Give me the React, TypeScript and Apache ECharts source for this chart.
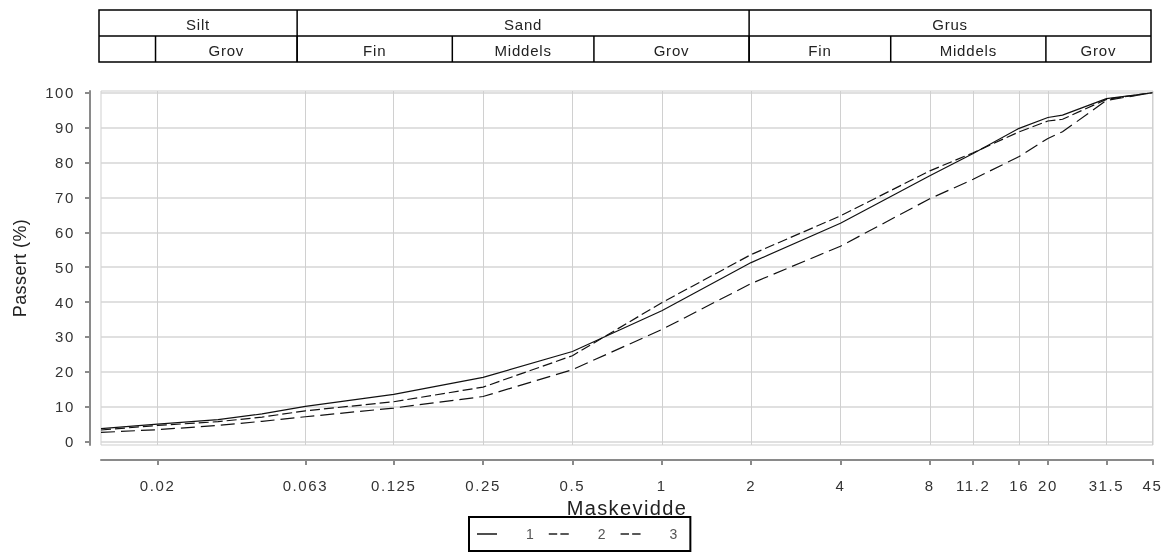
import React, { useEffect, useRef } from "react";
import * as echarts from "echarts";

// ---- data ----
const sieveSizes = [0.0129, 0.02, 0.032, 0.045, 0.063, 0.125, 0.25, 0.5, 1, 2, 4, 8, 11.2, 16, 20, 22.4, 31.5, 45];
const series1 = [3.7, 5.0, 6.3, 7.9, 10.1, 13.5, 18.4, 25.8, 37.5, 51.3, 62.6, 76.2, 82.6, 89.8, 92.9, 93.6, 98.3, 100];
const series2 = [3.3, 4.6, 5.7, 7.0, 8.8, 11.4, 15.6, 24.6, 39.8, 53.6, 64.7, 77.6, 82.8, 88.8, 91.9, 92.4, 98.1, 100];
const series3 = [2.6, 3.4, 4.6, 5.8, 7.1, 9.6, 12.9, 20.6, 32.1, 45.3, 56.0, 69.6, 75.2, 81.7, 86.9, 88.8, 97.8, 100];
const seriesNames = ["1", "2", "3"];
const xTickLabels = ["0.02", "0.063", "0.125", "0.25", "0.5", "1", "2", "4", "8", "11.2", "16", "20", "31.5", "45"];
const yTickValues = [0, 10, 20, 30, 40, 50, 60, 70, 80, 90, 100];
const xMin = 0.0129;
const xMax = 45.2;

// header table (fraction classes)
const topClasses = ["Silt", "Sand", "Grus"];
const topBounds = [xMin, 0.06, 2, xMax];
const subClasses = ["", "Grov", "Fin", "Middels", "Grov", "Fin", "Middels", "Grov"];
const subBounds = [xMin, 0.02, 0.06, 0.2, 0.6, 2, 6, 20, xMax];

export default function App() {
  const ref = useRef<HTMLDivElement>(null);

  useEffect(() => {
    const el = ref.current;
    if (!el) return;
    const chart = echarts.init(el, null, { renderer: "svg" });
    const lg = (v: number) => Math.log10(v);
    const toData = (vals: number[]) => sieveSizes.map((d, i) => [lg(d), vals[i]]);
    const xTickValues = xTickLabels.map((s) => lg(parseFloat(s)));
    const labelFor = (v: number) => {
      let best = 0;
      let bd = Infinity;
      xTickValues.forEach((t, i) => {
        const d = Math.abs(t - v);
        if (d < bd) {
          bd = d;
          best = i;
        }
      });
      return xTickLabels[best];
    };
    const font = "Liberation Sans";
    const lineColor = "#111";
    const dashes: (string | number[])[] = ["solid", [10, 4], [14, 6]];
    const vals = [series1, series2, series3];
    const solidIcon = "path://M0,0H20V1.6H0Z";
    const dashIcon = "path://M0,0H8V1.6H0ZM11,0H19V1.6H11Z";
    const icons = [solidIcon, dashIcon, dashIcon];

    chart.setOption({
      animation: false,
      textStyle: { fontFamily: font },
      grid: {
        left: 101,
        right: 19,
        top: 91,
        bottom: 114,
        show: true,
        borderColor: "#cfcfcf",
        borderWidth: 1,
        containLabel: false,
        outerBoundsMode: "none",
      },
      legend: {
        left: 469,
        top: 517,
        itemWidth: 20,
        itemHeight: 12,
        itemGap: 15,
        padding: [10, 13, 10, 8],
        borderColor: "#000",
        borderWidth: 2,
        borderRadius: 0,
        textStyle: { fontSize: 14, color: "#555", padding: [0, 0, 0, 24], fontFamily: font },
        data: seriesNames.map((n, i) => ({ name: n, icon: icons[i], itemStyle: { color: "#222" } })),
      },
      xAxis: {
        type: "value",
        min: lg(xMin),
        max: lg(xMax),
        offset: 15,
        name: "Maskevidde",
        nameLocation: "middle",
        nameGap: 37,
        nameTextStyle: { fontSize: 20, color: "#222", fontFamily: font },
        axisLine: { show: true, onZero: false, lineStyle: { color: "#8a8a8a", width: 2 } },
        axisTick: { show: true, length: 5, lineStyle: { color: "#8a8a8a", width: 2 }, customValues: xTickValues },
        axisLabel: {
          customValues: xTickValues,
          formatter: (v: number) => labelFor(v),
          fontSize: 15,
          color: "#333",
          margin: 18,
          fontFamily: font,
        },
        splitLine: { show: true, lineStyle: { color: "#d0d0d0", width: 1 }, customValues: xTickValues },
      },
      yAxis: {
        type: "value",
        min: -1,
        max: 100.5,
        offset: 11,
        name: "Passert (%)",
        nameLocation: "middle",
        nameGap: 61,
        nameTextStyle: { fontSize: 18, color: "#222", fontFamily: font },
        axisLine: { show: true, onZero: false, lineStyle: { color: "#8a8a8a", width: 2 } },
        axisTick: { show: true, length: 5, lineStyle: { color: "#8a8a8a", width: 2 }, customValues: yTickValues },
        axisLabel: {
          customValues: yTickValues,
          formatter: (v: number) => String(Math.round(v)),
          fontSize: 15,
          color: "#333",
          margin: 15,
          fontFamily: font,
        },
        splitLine: { show: true, lineStyle: { color: "#d6d6d6", width: 1.5 }, customValues: yTickValues },
      },
      series: seriesNames.map((n, i) => ({
        name: n,
        type: "line",
        data: toData(vals[i]),
        symbol: "none",
        showSymbol: false,
        lineStyle: { color: lineColor, width: 1.2, type: dashes[i] },
        itemStyle: { color: lineColor },
      })),
    });

    // header table positioned through the x axis scale
    const px = (d: number) => chart.convertToPixel({ xAxisIndex: 0 }, lg(d)) as number;
    const yTop = 10;
    const yMid = 36;
    const yBot = 62;
    const graphic: any[] = [];
    const stroke = { stroke: "#000", lineWidth: 1.5 };
    const x0 = px(xMin) - 2;
    const x1 = px(xMax) - 2;
    const headFont = `15px "${font}"`;
    graphic.push({ type: "rect", shape: { x: x0, y: yTop, width: x1 - x0, height: yBot - yTop }, style: { fill: "none", ...stroke } });
    graphic.push({ type: "line", shape: { x1: x0, y1: yMid, x2: x1, y2: yMid }, style: stroke });
    topBounds.forEach((b, i) => {
      if (i === 0 || i === topBounds.length - 1) return;
      const x = px(b) - 2;
      graphic.push({ type: "line", shape: { x1: x, y1: yTop, x2: x, y2: yBot }, style: stroke });
    });
    topClasses.forEach((t, i) => {
      const a = Math.max(px(topBounds[i]) - 2, x0);
      const b = Math.min(px(topBounds[i + 1]) - 2, x1);
      graphic.push({
        type: "text",
        x: (a + b) / 2,
        y: (yTop + yMid) / 2 + 1,
        style: { text: t, fill: "#222", font: headFont, align: "center", verticalAlign: "middle" },
      });
    });
    subBounds.forEach((b, i) => {
      if (i === 0 || i === subBounds.length - 1) return;
      const x = px(b) - 2;
      graphic.push({ type: "line", shape: { x1: x, y1: yMid, x2: x, y2: yBot }, style: stroke });
    });
    subClasses.forEach((t, i) => {
      if (!t) return;
      const a = Math.max(px(subBounds[i]) - 2, x0);
      const b = Math.min(px(subBounds[i + 1]) - 2, x1);
      graphic.push({
        type: "text",
        x: (a + b) / 2,
        y: (yMid + yBot) / 2 + 1,
        style: { text: t, fill: "#222", font: headFont, align: "center", verticalAlign: "middle" },
      });
    });
    chart.setOption({ graphic });

    // spaced-out lettering, as in the reference
    const tickSet = new Set([...xTickLabels, ...yTickValues.map(String)]);
    const headSet = new Set([...topClasses, ...subClasses.filter(Boolean)]);
    const applySpacing = () => {
      el.querySelectorAll("text").forEach((t) => {
        const s = (t.textContent || "").trim();
        const anchor = t.getAttribute("text-anchor");
        if (tickSet.has(s)) {
          if (!seriesNames.includes(s) || anchor === "middle" || anchor === "end") t.setAttribute("letter-spacing", "1.6");
        } else if (headSet.has(s)) {
          t.setAttribute("letter-spacing", "0.8");
        } else if (s === "Maskevidde") {
          t.setAttribute("letter-spacing", "1.4");
        } else if (s === "Passert (%)") {
          t.setAttribute("letter-spacing", "0.4");
        }
      });
    };
    applySpacing();
    const timer = window.setTimeout(applySpacing, 50);

    return () => {
      window.clearTimeout(timer);
      chart.dispose();
    };
  }, []);

  return <div ref={ref} style={{ position: "fixed", left: 0, top: 0, width: 1172, height: 559 }} />;
}
